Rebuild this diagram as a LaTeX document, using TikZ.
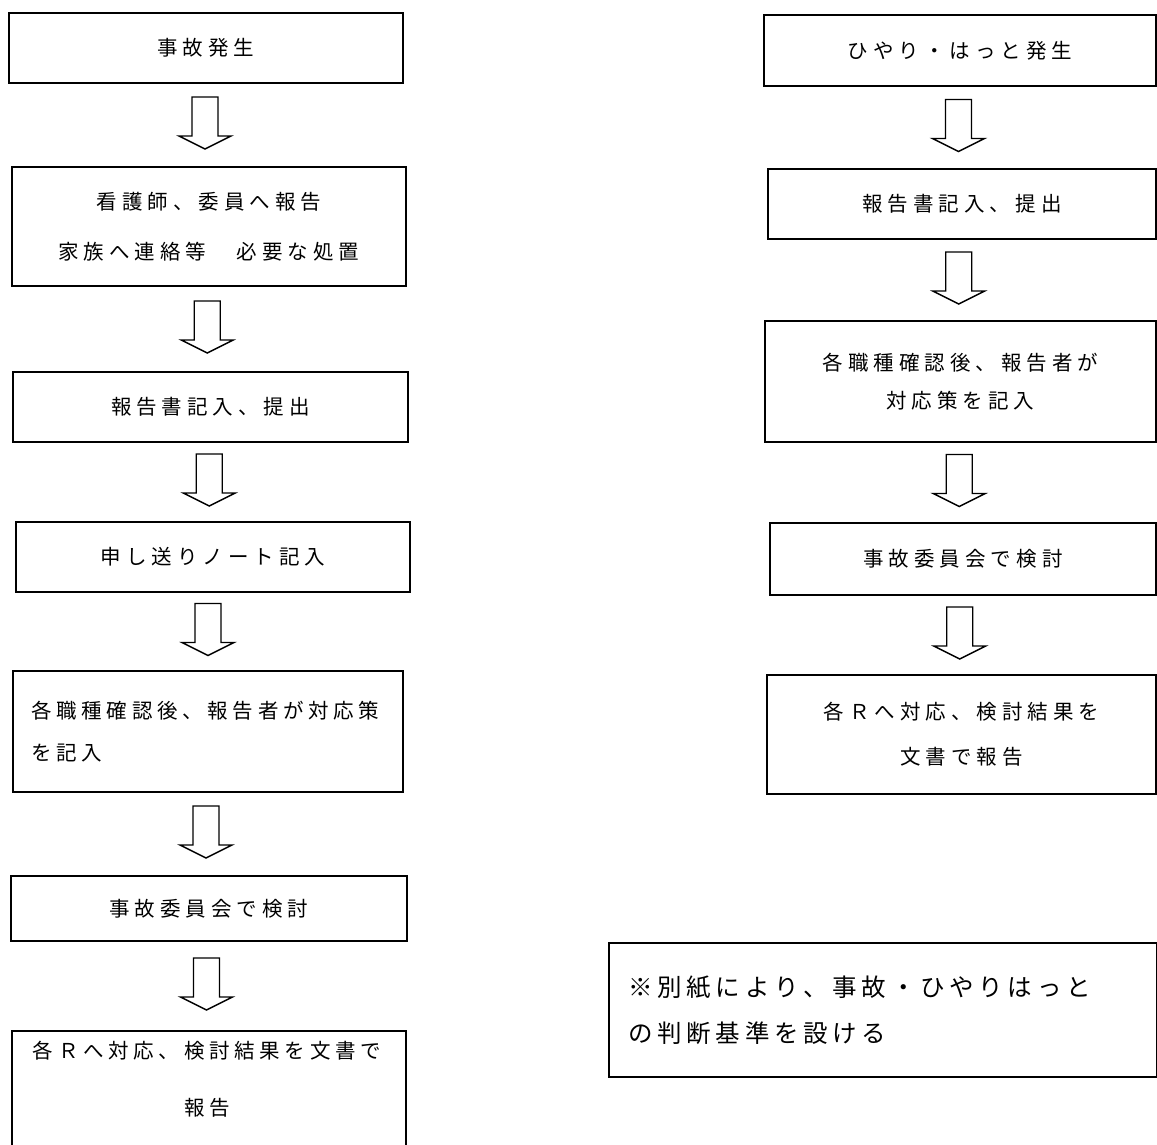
\documentclass[tikz,border=0pt]{standalone}
\usepackage{fontspec}
\newfontfamily\jp{Noto Sans CJK JP}
\usetikzlibrary{calc}
\newlength\chpitch
\def\jpsp#1{\jpsploop#1\relax}
\def\jpsploop#1{\ifx\relax#1\else\makebox[\chpitch]{#1}\expandafter\jpsploop\fi}
\tikzset{
  box/.style={draw, line width=1.6pt, inner sep=0pt, outer sep=0pt, align=center,
    font=\jp\fontsize{20.5}{25}\selectfont\setlength\chpitch{25.5pt}},
  txt/.style={inner sep=0pt, align=center,
    font=\jp\fontsize{20.5}{25}\selectfont\setlength\chpitch{25.5pt}},
  arr/.style={draw, line width=1.4pt, line join=miter, fill=white},
}
\newcommand\flowarrow[2]{%
  \draw[arr, shift={($(#1.south)!0.5!(#2.north)+(-2.5,-28)$)}]
    (-13,0) -- (-13,39) -- (-26,39) -- (0,52) -- (26,39) -- (13,39) -- (13,0) -- cycle;}
\begin{document}
\begin{tikzpicture}[x=1pt, y=-1pt]
\useasboundingbox (0,0) rectangle (1157,1144);
\clip (0,0) rectangle (1157,1144);
\fill[white] (0,0) rectangle (1157,1144);

% left column
\node[box, minimum width=394, minimum height=70] (L1) at (206,48) {\jpsp{事故発生}};
\node[box, minimum width=394, minimum height=119, font=\jp\fontsize{20.5}{50}\selectfont\setlength\chpitch{25.5pt}] (L2) at (209,226.5)
  {\jpsp{看護師、委員へ報告}\\\jpsp{家族へ連絡等　必要な処置}};
\node[box, minimum width=395, minimum height=70] (L3) at (210.5,407) {\jpsp{報告書記入、提出}};
\node[box, minimum width=394, minimum height=70] (L4) at (213,557) {\jpsp{申し送りノート記入}};
\node[box, minimum width=390, minimum height=121, text width=358, align=left,
  font=\jp\fontsize{20.5}{42}\selectfont\setlength\chpitch{25.2pt}] (L5) at (208,731.5)
  {\jpsp{各職種確認後、報告者が対応策}\\\jpsp{を記入}};
\node[box, minimum width=396, minimum height=65] (L6) at (209,908.5) {\jpsp{事故委員会で検討}};
\node[box, minimum width=394, minimum height=200] (L7) at (209,1131) {};
\node[txt, font=\jp\fontsize{20.5}{57}\selectfont\setlength\chpitch{25.2pt}] (L7t) at (207,1079)
  {\jpsp{各Ｒへ対応、検討結果を文書で}\\\jpsp{報告}};

\flowarrow{L1}{L2}
\flowarrow{L2}{L3}
\flowarrow{L3}{L4}
\flowarrow{L4}{L5}
\flowarrow{L5}{L6}
\flowarrow{L6}{L7}

% right column
\node[box, minimum width=392, minimum height=71] (R1) at (960,50.5) {\jpsp{ひやり・はっと発生}};
\node[box, minimum width=388, minimum height=70] (R2) at (962,204) {\jpsp{報告書記入、提出}};
\node[box, minimum width=391, minimum height=121, font=\jp\fontsize{20.5}{38}\selectfont\setlength\chpitch{25.5pt}] (R3) at (960.5,381.5)
  {\jpsp{各職種確認後、報告者が}\\\jpsp{対応策を記入}};
\node[box, minimum width=386, minimum height=72] (R4) at (963,559) {\jpsp{事故委員会で検討}};
\node[box, minimum width=389, minimum height=119, font=\jp\fontsize{20.5}{45}\selectfont\setlength\chpitch{25.5pt}] (R5) at (961.5,734.5)
  {\jpsp{各Ｒへ対応、検討結果を}\\\jpsp{文書で報告}};

\flowarrow{R1}{R2}
\flowarrow{R2}{R3}
\flowarrow{R3}{R4}
\flowarrow{R4}{R5}

% note
\node[box, minimum width=548, minimum height=134, text width=514, align=left,
  font=\jp\fontsize{24.5}{46}\selectfont\setlength\chpitch{29.2pt}] (N) at (883,1010)
  {\jpsp{※別紙により、事故・ひやりはっと}\\\jpsp{の判断基準を設ける}};
\end{tikzpicture}
\end{document}
